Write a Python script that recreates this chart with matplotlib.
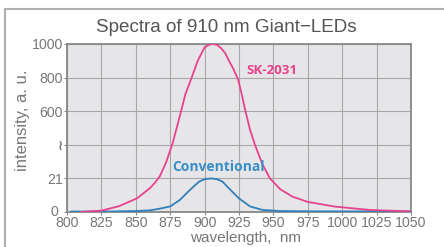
import matplotlib
matplotlib.use("Agg")
import matplotlib.pyplot as plt
from matplotlib import font_manager
from matplotlib.lines import Line2D
from matplotlib.transforms import ScaledTranslation

# ---- data ----
sk_wavelength = [810, 825, 838, 851, 860, 864, 867.6, 872, 876.8, 882.6, 886, 890.6, 895,
                 900, 903, 906, 909, 912, 915, 917.7, 921, 924.3, 927, 929.4, 933, 936.6,
                 942, 947.5, 955, 964, 975, 995, 1020, 1049]
sk_intensity = [0, 8, 35, 82, 140, 175, 215, 295, 410, 590, 700, 800, 900,
                980, 995, 1000, 995, 975, 945, 900, 850, 790, 700, 610, 490, 400,
                285, 200, 135, 91, 60, 32, 12, 4]

conv_wavelength = [803, 830, 850, 860, 867, 875, 882, 889, 896, 900, 905, 909, 913,
                   918, 925, 933, 942, 955, 980, 1050]
conv_intensity = [0.3, 0.3, 0.6, 1.0, 2.0, 3.5, 7.5, 13.5, 19, 20.5, 21, 20.5, 19,
                  14.5, 8.5, 3.5, 1.3, 0.6, 0.4, 0.3]

x_ticks = [800, 825, 850, 875, 900, 925, 950, 975, 1000, 1025, 1050]
y_tick_labels = ["0", "21", "\u2240", "600", "800", "1000"]

# scale factors of the broken axis (value per grid step)
sk_step = 200.0
conv_step = 21.0

names = {f.name for f in font_manager.fontManager.ttflist}
narrow = "Liberation Sans Narrow" if "Liberation Sans Narrow" in names else "Liberation Sans"

fig = plt.figure(figsize=(4.44, 2.47), dpi=100)
fig.patch.set_facecolor("white")

# outer frame lines
fig.add_artist(Line2D([5/444, 1.0], [1-9.5/247]*2, color="#b0b0b0", lw=1.5,
                      transform=fig.transFigure))
fig.add_artist(Line2D([5/444]*2, [0, 1-9.5/247], color="#b0b0b0", lw=1.5,
                      transform=fig.transFigure))

ax = fig.add_axes([67/444, 1-212/247, 344/444, 168/247])
ax.set_facecolor("#e6e6e8")

ax.plot(conv_wavelength, [v/conv_step for v in conv_intensity], color="#2f80bb", lw=1.3,
        solid_capstyle="round", solid_joinstyle="round", zorder=3)
ax.plot(sk_wavelength, [v/sk_step for v in sk_intensity], color="#e8428c", lw=1.3,
        solid_capstyle="round", solid_joinstyle="round", zorder=4)

ax.set_xlim(800, 1050)
ax.set_ylim(0, 5)
ax.set_xticks(x_ticks)
ax.set_yticks(range(len(y_tick_labels)))
ax.set_yticklabels(y_tick_labels)
ax.grid(True, color="#a8a8a8", lw=0.8)
ax.set_axisbelow(True)
for s in ax.spines.values():
    s.set_color("#888888")
    s.set_linewidth(1.3)

ax.tick_params(axis="both", length=2, width=0.8, color="#888888", labelcolor="#777777",
               labelsize=10.2, pad=1)
for lab in ax.get_xticklabels() + ax.get_yticklabels():
    lab.set_fontfamily(narrow)
wl = ax.get_yticklabels()[2]
wl.set_fontfamily("DejaVu Sans")
wl.set_fontweight("bold")
wl.set_fontsize(10)
zl = ax.get_yticklabels()[0]
zl.set_transform(zl.get_transform() + ScaledTranslation(-5/100, 2/100, fig.dpi_scale_trans))

fig.text(246/444, 1-238/247, "wavelength,  nm", ha="center", va="center",
         fontsize=11, color="#777777", family=narrow)
fig.text(22/444, 1-120/247, "intensity, a. u.", ha="center", va="center", rotation=90,
         fontsize=12, color="#777777", family=narrow)
fig.text(226.5/444, 1-28/247, "Spectra of 910 nm Giant\u2212LEDs", ha="center", va="center",
         fontsize=13.6, color="#555555", family="Liberation Sans")

fig.text(272/444, 1-70.5/247, "SK-2031", fontsize=9.6, fontweight="bold",
         color="#e8428c", family="Open Sans", ha="center", va="center")
fig.text(219/444, 1-167/247, "Conventional", fontsize=10, fontweight="bold",
         color="#3a8ec8", family="Open Sans", ha="center", va="center")

fig.savefig("out.png", dpi=100)
